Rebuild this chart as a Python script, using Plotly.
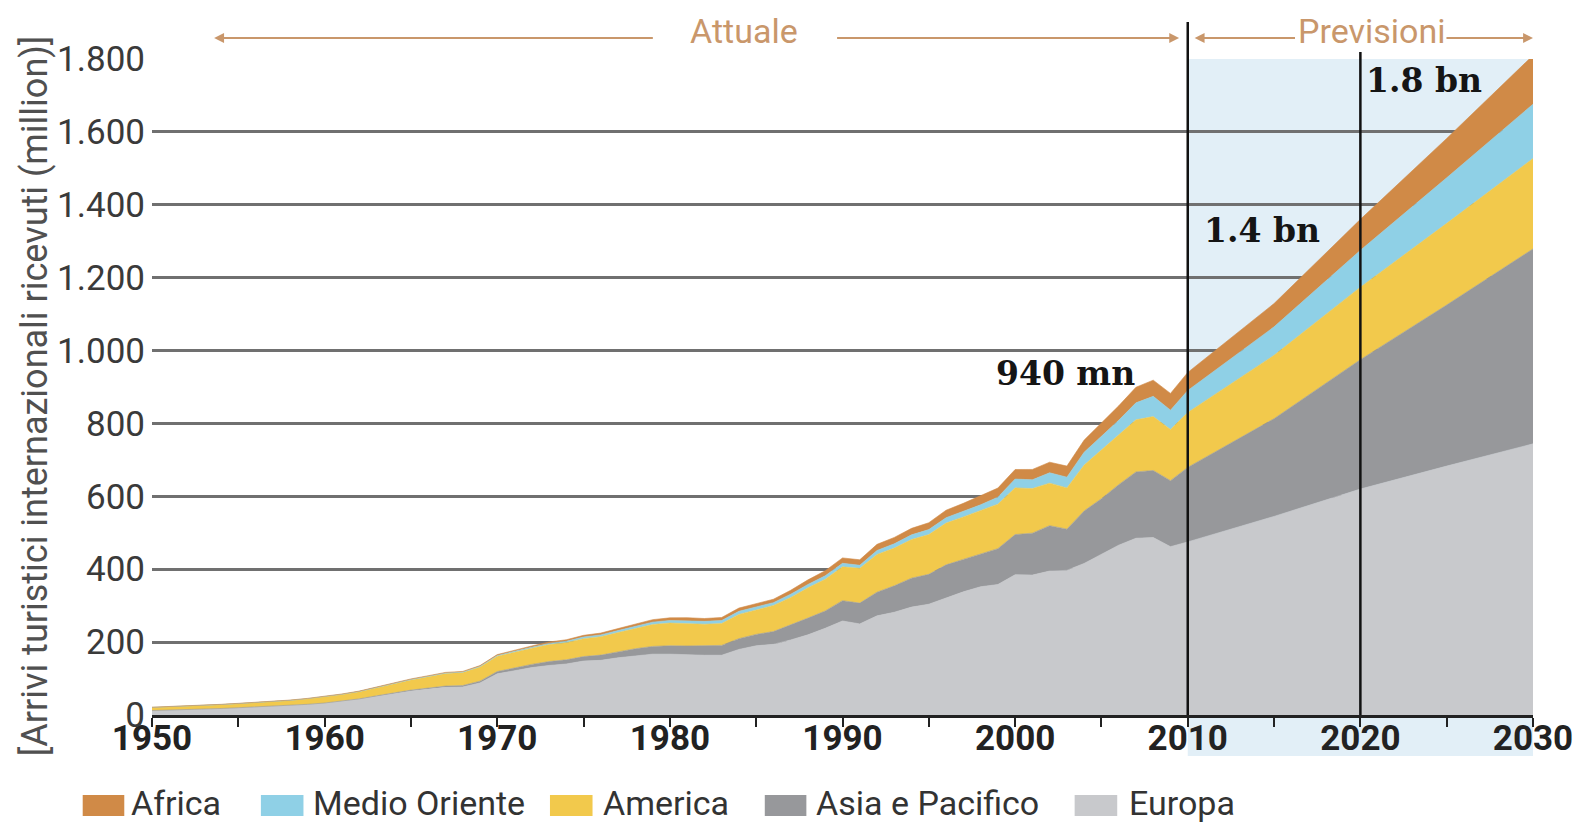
import plotly.graph_objects as go

# ---------------- data ----------------
years = list(range(1950, 2011)) + [2015, 2020, 2025, 2030]

europa = [12, 13, 14.5, 16, 17.5, 19.5, 21.5, 23.5, 25.5, 28.5,
          32, 37, 43, 51, 59, 66, 71, 76, 77, 88,
          113, 122, 130, 136, 140, 148, 150, 157, 163, 167,
          167, 165, 164, 164, 180, 190, 194, 206, 220, 238,
          258, 250, 272, 282, 296, 304, 322, 338, 352, 358,
          385, 384, 395, 397, 416, 440, 466, 485, 487, 462,
          475, 545, 620, 683, 744]

asia = [0.2, 0.2, 0.3, 0.3, 0.4, 0.5, 0.5, 0.6, 0.7, 0.8,
        0.9, 1.1, 1.3, 1.6, 2.0, 2.3, 2.8, 3.3, 3.8, 4.8,
        6.2, 7.4, 8.9, 10.7, 11.5, 12.4, 14.3, 16.2, 18.8, 21.2,
        23.0, 24.5, 25.5, 27.0, 29.5, 31.2, 35.0, 40.5, 46.0, 47.5,
        55.8, 57.0, 65.0, 72.5, 79.5, 82.0, 90.0, 89.0, 89.5, 98.5,
        110.1, 115.0, 124.5, 113.0, 144.0, 153.6, 166.0, 182.0, 184.0, 181.1,
        204.4, 268, 355, 442, 535]

america = [8.5, 9, 9.5, 10, 10.5, 11, 11.5, 12.5, 13.5, 15,
           16.5, 18, 19.5, 22, 25, 28, 31, 34.5, 35.5, 39,
           42.3, 43.5, 44.5, 46.5, 47, 49, 50.5, 53, 56, 60,
           62.3, 62, 59.5, 60, 66.5, 67, 71.5, 76, 83, 87,
           92.8, 95.5, 103.5, 103.5, 106, 109, 114.5, 116.5, 119, 122,
           128.2, 122.2, 116.7, 113.1, 125.8, 133.3, 135.8, 142.9, 147.8, 140.6,
           150.7, 174, 199, 224, 248]

medio_oriente = [0.2, 0.2, 0.2, 0.3, 0.3, 0.3, 0.4, 0.4, 0.5, 0.5,
                 0.6, 0.7, 0.8, 1.0, 1.1, 1.3, 1.4, 1.3, 1.5, 1.7,
                 1.9, 2.3, 2.8, 3.1, 3.8, 4.5, 5.0, 5.5, 6.0, 6.6,
                 7.1, 7.5, 7.9, 8.2, 8.5, 8.3, 7.8, 8.9, 9.3, 9.5,
                 9.6, 8.4, 10.9, 11.8, 12.8, 13.7, 14.8, 15.5, 16.2, 19.2,
                 24.1, 24.2, 28.4, 29.5, 35.4, 37.9, 40.9, 46.6, 55.6, 52.8,
                 60.3, 78, 101, 125, 149]

africa = [0.5, 0.5, 0.6, 0.6, 0.6, 0.7, 0.7, 0.7, 0.8, 0.8,
          0.8, 0.9, 1.0, 1.1, 1.2, 1.4, 1.6, 1.8, 1.9, 2.1,
          2.4, 2.8, 3.3, 3.9, 4.2, 4.7, 5.0, 5.5, 6.2, 6.8,
          7.2, 8.0, 7.9, 8.4, 8.9, 9.7, 9.4, 10.9, 12.5, 13.8,
          14.8, 15.0, 16.9, 17.4, 17.8, 18.9, 20.6, 21.8, 24.1, 25.0,
          26.2, 28.4, 29.1, 30.4, 33.2, 35.4, 39.6, 42.8, 44.4, 45.9,
          49.5, 64, 85, 108, 134]

y_tick_values = [0, 200, 400, 600, 800, 1000, 1200, 1400, 1600, 1800]
y_tick_labels = ["0", "200", "400", "600", "800", "1.000", "1.200", "1.400", "1.600", "1.800"]
x_tick_values = [1950, 1955, 1960, 1965, 1970, 1975, 1980, 1985, 1990, 1995,
                 2000, 2005, 2010, 2015, 2020, 2025, 2030]
x_tick_labels = ["1950", "", "1960", "", "1970", "", "1980", "", "1990", "",
                 "2000", "", "2010", "", "2020", "", "2030"]

y_title = "[Arrivi turistici internazionali ricevuti (million)]"
period_labels = [("Attuale", 1984.3), ("Previsioni", 2020.65)]
value_labels = [("940 mn", 2002.9, 937), ("1.4 bn", 2014.3, 1330), ("1.8 bn", 2023.7, 1740)]

# ---------------- styling ----------------
SANS = "Roboto, 'Open Sans', sans-serif"
SLAB = "DejaVu Serif, Liberation Serif, serif"
TAN = "#C9976B"

colors = {
    "Europa": "#C8C9CC",
    "Asia e Pacifico": "#97989B",
    "America": "#F2C94C",
    "Medio Oriente": "#8FD0E6",
    "Africa": "#D08A47",
}

stack_order = [("Europa", europa), ("Asia e Pacifico", asia), ("America", america),
               ("Medio Oriente", medio_oriente), ("Africa", africa)]

W, H = 1585, 825
L, R, T, B = 152, 38, 59, 110
PW, PH = W - L - R, H - T - B


def px_x(p):
    return (p - L) / PW


def px_y(p):
    return (H - B - p) / PH


fig = go.Figure()
for name, vals in stack_order:
    fig.add_trace(go.Scatter(
        x=years, y=vals, name=name, mode="lines", stackgroup="one",
        line=dict(width=0.6, color=colors[name]), fillcolor=colors[name],
        showlegend=False, hoverinfo="x+y+name"))

shapes = []
# forecast shaded background
shapes.append(dict(type="rect", xref="x", yref="paper", x0=2010, x1=2030,
                   y0=px_y(756), y1=1, fillcolor="#E2EFF7", line=dict(width=0), layer="below"))
# vertical reference lines
shapes.append(dict(type="line", xref="x", yref="paper", x0=2010, x1=2010,
                   y0=0, y1=px_y(22), line=dict(color="#111111", width=2.5), layer="above"))
shapes.append(dict(type="line", xref="x", yref="paper", x0=2020, x1=2020,
                   y0=0, y1=px_y(52), line=dict(color="#111111", width=2.5), layer="above"))

annotations = []
# y-axis title
annotations.append(dict(text=y_title, xref="paper", yref="paper", x=px_x(34), y=px_y(396),
                        textangle=-90, showarrow=False, xanchor="center", yanchor="middle",
                        font=dict(family=SANS, size=36, color="#505050")))

# header texts and arrows
hy = px_y(38)
for txt, xv in period_labels:
    annotations.append(dict(text=txt, xref="x", yref="paper", x=xv, y=px_y(31),
                            xanchor="center", yanchor="middle", showarrow=False,
                            font=dict(family=SANS, size=34, color=TAN)))
for head, tail in [(1953.6, 1979.1), (2009.5, 1989.6), (2010.4, 2016.3), (2030.0, 2024.9)]:
    annotations.append(dict(text="", xref="x", yref="paper", x=head, y=hy,
                            axref="x", ayref="pixel", ax=tail, ay=0,
                            showarrow=True, arrowhead=2, arrowsize=1.1, arrowwidth=1.8,
                            arrowcolor=TAN, standoff=0, startstandoff=0))

# value labels
for txt, xv, yv in value_labels:
    annotations.append(dict(text="<b>%s</b>" % txt, xref="x", yref="y", x=xv, y=yv,
                            xanchor="center", yanchor="middle", showarrow=False,
                            font=dict(family=SLAB, size=33, color="#151515")))

# manual legend
legend_items = [("Africa", 82, 124, 129), ("Medio Oriente", 262, 305, 313),
                ("America", 554, 597, 606), ("Asia e Pacifico", 771, 813, 821),
                ("Europa", 1084, 1127, 1137)]
for name, sx0, sx1, tx in legend_items:
    shapes.append(dict(type="rect", xref="paper", yref="paper", x0=px_x(sx0), x1=px_x(sx1),
                       y0=px_y(816), y1=px_y(795), fillcolor=colors[name], line=dict(width=0)))
    annotations.append(dict(text=name, xref="paper", yref="paper", x=px_x(tx), y=px_y(803),
                            xanchor="left", yanchor="middle", showarrow=False,
                            font=dict(family=SANS, size=34, color="#333333")))

fig.update_layout(
    width=W, height=H,
    margin=dict(l=L, r=R, t=T, b=B),
    paper_bgcolor="white", plot_bgcolor="white",
    showlegend=False,
    shapes=shapes, annotations=annotations,
    xaxis=dict(range=[1950, 2030], tickvals=x_tick_values, ticktext=x_tick_labels,
               showgrid=False, zeroline=False, showline=True, linecolor="#222222", linewidth=3,
               ticks="outside", ticklen=9, tickwidth=2, tickcolor="#222222",
               ticklabelstandoff=-19, ticklabeloverflow="allow",
               tickfont=dict(family=SANS, size=35, color="#222222", weight="bold")),
    yaxis=dict(range=[0, 1800], tickvals=y_tick_values, ticktext=y_tick_labels,
               showgrid=True, gridcolor="#707070", gridwidth=2.5, zeroline=False,
               showline=False, ticks="", ticklabelstandoff=6,
               tickfont=dict(family=SANS, size=35, color="#3a3a3a")),
)

fig.write_html("out.html")
